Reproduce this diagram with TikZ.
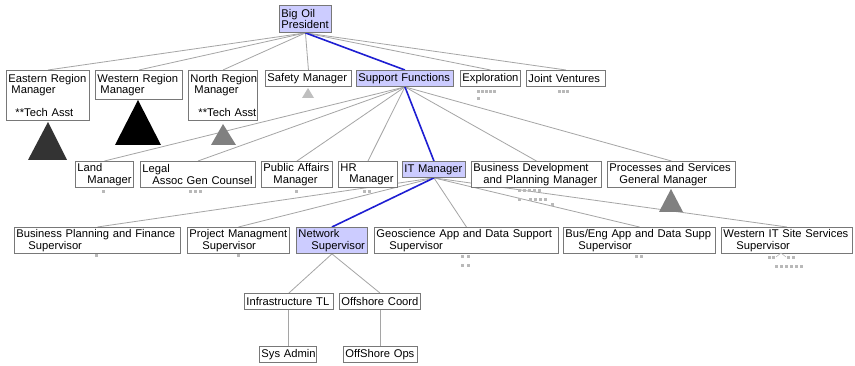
\documentclass[tikz,border=0pt]{standalone}
\usepackage{fontspec}
\setmainfont{Liberation Sans}
\hyphenpenalty=10000
\exhyphenpenalty=10000
\definecolor{sel}{RGB}{204,204,255}
\definecolor{bord}{RGB}{120,120,120}
\definecolor{conncol}{RGB}{165,165,165}
\definecolor{pathcol}{RGB}{30,30,210}
\pgfdeclarelayer{bg}
\pgfsetlayers{bg,main}
\tikzset{
  box/.style={draw=bord, line width=0.9pt, fill=white, anchor=north west,
    inner xsep=1.5pt, inner ysep=1pt, align=left,
    font=\fontsize{11.2}{11.5}\selectfont},
  bw/.code={\pgfmathsetmacro\tmpw{#1-4}\edef\tmpcmd{\noexpand\tikzset{text width=\tmpw pt, minimum width=#1pt}}\tmpcmd},
  bh/.style={minimum height=#1pt},
  conn/.style={draw=conncol, line width=0.8pt},
  hot/.style={draw=pathcol, line width=1.6pt},
  mini/.style={fill=gray!55},
}
\begin{document}
\begin{tikzpicture}[x=1pt,y=-1pt]
\useasboundingbox (0,0) rectangle (855,366);
% level 0
\node[box, bw=52, bh=27, fill=sel] (pres) at (279,5) {Big Oil\\President};
% level 1
\node[box, bw=83, bh=50] (east) at (6,70) {\mbox{Eastern Region}\\\hspace*{3pt}Manager\\[11.5pt]\hspace*{7pt}\mbox{**Tech Asst}};
\node[box, bw=87, bh=29] (west) at (95,70) {\mbox{Western Region}\\\hspace*{3pt}Manager};
\node[box, bw=69, bh=50] (north) at (188,70) {\mbox{North Region}\\\hspace*{4pt}Manager\\[11.5pt]\hspace*{8pt}\mbox{**Tech Asst}};
\node[box, bw=86, bh=16] (safety) at (265,70) {\mbox{Safety Manager}};
\node[box, bw=97, bh=16, fill=sel] (support) at (356,70) {\mbox{Support Functions}};
\node[box, bw=60, bh=16] (expl) at (460,70) {Exploration};
\node[box, bw=79, bh=16] (jv) at (526,70) {\mbox{Joint Ventures}};
% level 2
\node[box, bw=58, bh=26] (land) at (75,161) {Land\\\hspace*{10pt}\mbox{Manager}};
\node[box, bw=115, bh=26] (legal) at (140,161) {Legal\\\hspace*{10pt}\mbox{Assoc Gen Counsel}};
\node[box, bw=71, bh=26] (pa) at (261,161) {\mbox{Public Affairs}\\\hspace*{10pt}\mbox{Manager}};
\node[box, bw=59, bh=26] (hr) at (338,161) {HR\\\hspace*{9pt}\mbox{Manager}};
\node[box, bw=63, bh=16, fill=sel] (it) at (402,161) {\mbox{IT Manager}};
\node[box, bw=130, bh=26] (bd) at (471,161) {\mbox{Business Development}\\\hspace*{10pt}\mbox{and Planning Manager}};
\node[box, bw=128, bh=26] (ps) at (607,161) {\mbox{Processes and Services}\\\hspace*{10pt}\mbox{General Manager}};
% level 3
\node[box, bw=166, bh=26] (bpf) at (14,227) {\mbox{Business Planning and Finance}\\\hspace*{12pt}\mbox{Supervisor}};
\node[box, bw=102, bh=26] (pm) at (187,227) {\mbox{Project Managment}\\\hspace*{13pt}\mbox{Supervisor}};
\node[box, bw=71, bh=26, fill=sel] (net) at (296,227) {Network\\\hspace*{13pt}\mbox{Supervisor}};
\node[box, bw=184, bh=26] (geo) at (374,227) {\mbox{Geoscience App and Data Support}\\\hspace*{13pt}\mbox{Supervisor}};
\node[box, bw=152, bh=26] (bus) at (563,227) {\mbox{Bus/Eng App and Data Supp}\\\hspace*{13pt}\mbox{Supervisor}};
\node[box, bw=131, bh=26] (wit) at (721,227) {\mbox{Western IT Site Services}\\\hspace*{13pt}\mbox{Supervisor}};
% level 4 and 5
\node[box, bw=89, bh=16] (inf) at (244,293) {\mbox{Infrastructure TL}};
\node[box, bw=81, bh=16] (off) at (339,293) {\mbox{Offshore Coord}};
\node[box, bw=57, bh=16] (sys) at (259,346) {\mbox{Sys Admin}};
\node[box, bw=74, bh=16] (ops) at (343,346) {\mbox{OffShore Ops}};
% connectors
\begin{pgfonlayer}{bg}
\fill[white] (0,0) rectangle (855,366);
\foreach \c in {east,west,north,safety,expl,jv} \draw[conn] (pres.south) -- (\c.north);
\foreach \c in {land,legal,pa,hr,bd,ps} \draw[conn] (support.south) -- (\c.north);
\foreach \c in {bpf,pm,geo,bus,wit} \draw[conn] (it.south) -- (\c.north);
\draw[conn] (net.south) -- (inf.north);
\draw[conn] (net.south) -- (off.north);
\draw[conn] (sys.north) -- (sys.north |- inf.south);
\draw[conn] (ops.north) -- (ops.north |- off.south);
\draw[hot] (pres.south) -- (support.north);
\draw[hot] (support.south) -- (it.north);
\draw[hot] (it.south) -- (net.north);
\end{pgfonlayer}
% collapsed-subtree triangles
\fill[black!80] (48,122) -- (67,160) -- (28,160) -- cycle;
\fill[black] (138,100) -- (161,145) -- (115,145) -- cycle;
\fill[gray] (223,124) -- (236,145) -- (211,145) -- cycle;
\fill[gray!50] (308,88) -- (314,98) -- (302,98) -- cycle;
\fill[gray] (671,189) -- (683,212) -- (659,212) -- cycle;
% mini subtree glyphs
\foreach \x in {477,481,485,489,493} \fill[mini] (\x,90) rectangle ++(3,3);
\fill[mini] (477,97) rectangle ++(3,3);
\foreach \x in {558,562,566} \fill[mini] (\x,90) rectangle ++(3,3);
\fill[mini] (102,190) rectangle ++(3,3);
\foreach \x in {189,194,199} \fill[mini] (\x,190) rectangle ++(3,3);
\fill[mini] (295,190) rectangle ++(3,3);
\foreach \x in {363,368} \fill[mini] (\x,190) rectangle ++(3,3);
\foreach \x in {518,523,528,533,538} \fill[mini] (\x,189) rectangle ++(3,3);
\foreach \x in {518,529,534,539,544} \fill[mini] (\x,198) rectangle ++(3,3);
\fill[mini] (551,203) rectangle ++(3,3);
\fill[mini] (95,254) rectangle ++(3,3);
\fill[mini] (237,254) rectangle ++(3,3);
\foreach \x in {461,467} {\fill[mini] (\x,255) rectangle ++(3,3); \fill[mini] (\x,264) rectangle ++(3,3);}
\foreach \x in {635,640} \fill[mini] (\x,255) rectangle ++(3,3);
\foreach \x in {768,772,787,792} \fill[mini] (\x,256) rectangle ++(3,3);
\foreach \x in {775,780,785,790,795,800} \fill[mini] (\x,265) rectangle ++(3,3);
\draw[gray!55, line width=0.6pt] (776,257) -- (781,253) -- (786,257);
\end{tikzpicture}
\end{document}
